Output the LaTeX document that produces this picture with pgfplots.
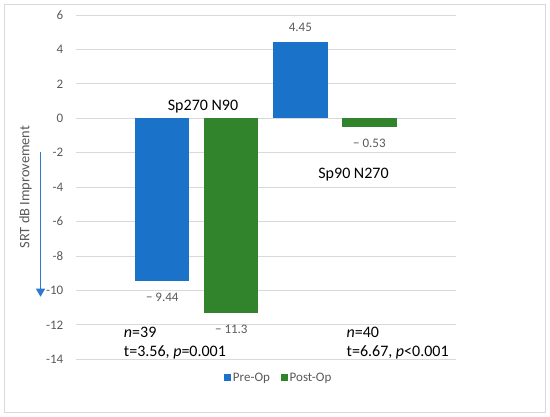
\documentclass[border=0pt]{standalone}
\usepackage{fontspec}
\setmainfont{Carlito}
\usepackage{pgfplots}
\pgfplotsset{compat=1.18}
\usetikzlibrary{arrows.meta}
\definecolor{preblue}{HTML}{1A72C9}
\definecolor{postgreen}{HTML}{31832C}
\definecolor{gridgray}{HTML}{D9D9D9}
\definecolor{labgray}{HTML}{595959}
\definecolor{arrowblue}{HTML}{2B78D0}
\newcommand\sm{\fontsize{13}{15.6}\selectfont}
\newcommand\ti{\fontsize{14.4}{17.3}\selectfont}
\newcommand\bg{\fontsize{16}{19.2}\selectfont}
\pgfplotsset{
  mybar/.style={ybar, bar width=0.787, bar shift=0pt, draw=none, fill=#1,
    nodes near coords, point meta=explicit symbolic,
    legend image code/.code={\fill[fill=#1] (0pt,-3.4pt) rectangle (6.8pt,3.4pt);}},
  neglab/.style={every node near coord/.append style={anchor=north}},
  poslab/.style={every node near coord/.append style={anchor=south}},
}
\begin{document}
\begin{tikzpicture}
\begin{axis}[
  scale only axis, width=379.7pt, height=344.4pt,
  xmin=-1.25, xmax=4.25, ymin=-14, ymax=6,
  xtick=\empty,
  ytick={-14,-12,...,6},
  yticklabels={-14,-12,-10,-8,-6,-4,-2,0,2,4,6},
  yticklabel style={font=\sm, text=labgray, anchor=east, inner sep=0pt, xshift=-12.5pt},
  ymajorgrids, grid style={gridgray, line width=1pt},
  axis line style={draw=none},
  major tick length=0pt,
  clip=false,
  every node near coord/.append style={font=\sm, text=labgray, inner sep=0pt, text height=20.1pt, text depth=10.4pt},
  legend columns=2,
  legend style={at={(0.534,-0.053)}, anchor=center, draw=none, fill=none, font=\sm, text=labgray,
    /tikz/every even column/.append style={column sep=9pt}, inner sep=0pt},
  legend cell align=left,
]
\path (rel axis cs:-0.2002,-0.1672) rectangle (rel axis cs:1.2484,1.0436);
\draw[gridgray, line width=1pt] (rel axis cs:-0.1883,-0.1542) rectangle (rel axis cs:1.2365,1.0305);
\addplot[mybar=preblue, neglab] coordinates {(0,-9.44) [{− 9.44}]};
\addlegendentry{Pre-Op}
\addplot[mybar=postgreen, neglab] coordinates {(1,-11.3) [{− 11.3}]};
\addlegendentry{Post-Op}
\addplot[mybar=preblue, poslab, forget plot] coordinates {(2,4.45) [{4.45}]};
\addplot[mybar=postgreen, neglab, forget plot] coordinates {(3,-0.53) [{− 0.53}]};
\node[font=\bg, anchor=base] at (axis cs:0.59,0.48) {Sp270 N90};
\node[font=\bg, anchor=base] at (axis cs:2.77,-3.49) {Sp90 N270};
\node[font=\bg, anchor=base west, inner sep=0pt] at (axis cs:-0.558,-12.73) {\textit{n}=39};
\node[font=\bg, anchor=base west, inner sep=0pt] at (axis cs:-0.558,-13.86) {t=3.56, \textit{p}=0.001};
\node[font=\bg, anchor=base west, inner sep=0pt] at (axis cs:2.668,-12.73) {\textit{n}=40};
\node[font=\bg, anchor=base west, inner sep=0pt] at (axis cs:2.668,-13.86) {t=6.67, \textit{p}<0.001};
\node[font=\ti, text=labgray, rotate=90] at (axis cs:-1.9815,-4) {SRT dB Improvement};
\draw[arrowblue, line width=0.9pt, -{Triangle[length=8pt,width=9pt]}] (axis cs:-1.764,-1.94) -- (axis cs:-1.764,-10.36);
\end{axis}
\end{tikzpicture}
\end{document}
